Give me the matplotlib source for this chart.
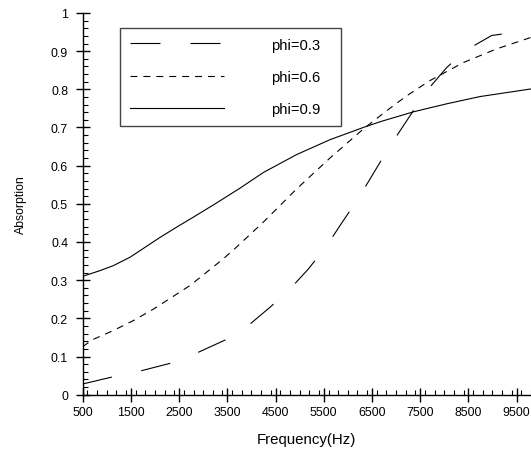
import matplotlib
matplotlib.use('Agg')
import matplotlib.pyplot as plt
from matplotlib.ticker import MultipleLocator, FixedLocator, FormatStrFormatter

plt.rcParams['font.family'] = ['Liberation Sans', 'DejaVu Sans']
plt.rcParams['lines.scale_dashes'] = False

#curve data (frequency in Hz, absorption)
freq_03 = [500, 1100, 1724, 2311, 2898, 3452, 3971, 4386, 4801, 5180, 5562, 5838,
           6184, 6461, 6751, 7014, 7360, 7671, 8051, 8432, 8985, 9573, 9800]
abs_03 = [0.028, 0.046, 0.063, 0.082, 0.111, 0.143, 0.185, 0.229, 0.277, 0.329, 0.390, 0.443,
          0.508, 0.565, 0.626, 0.678, 0.744, 0.801, 0.857, 0.901, 0.941, 0.951, 0.951]

freq_06 = [500, 720, 1135, 1550, 1965, 2311, 2726, 3072, 3418, 3695, 4247, 4938,
           5630, 6321, 6807, 7222, 7706, 8396, 9088, 9800]
abs_06 = [0.126, 0.145, 0.168, 0.194, 0.224, 0.252, 0.286, 0.321, 0.356, 0.387, 0.452, 0.539,
          0.620, 0.696, 0.744, 0.783, 0.823, 0.870, 0.906, 0.936]

freq_09 = [500, 859, 1135, 1481, 1757, 2104, 2450, 2795, 3210, 3487, 3763, 4247,
           4938, 5630, 6321, 6668, 7360, 8051, 8743, 9800]
abs_09 = [0.310, 0.325, 0.338, 0.360, 0.383, 0.412, 0.439, 0.465, 0.497, 0.519, 0.541, 0.582,
          0.629, 0.668, 0.700, 0.715, 0.741, 0.762, 0.781, 0.801]

labels = ['phi=0.3', 'phi=0.6', 'phi=0.9']
xticks = [500, 1500, 2500, 3500, 4500, 5500, 6500, 7500, 8500, 9500]

fig = plt.figure(figsize=(5.31, 4.52), dpi=100)
ax = fig.add_axes([0.1557, 0.1246, 0.8443, 0.8445])

lw = 0.8
ax.plot(freq_03, abs_03, color='black', lw=lw, linestyle=(0, (21.6, 21.6)), label=labels[0])
ax.plot(freq_06, abs_06, color='black', lw=lw, linestyle=(0, (5.0, 4.3)), label=labels[1])
ax.plot(freq_09, abs_09, color='black', lw=lw, linestyle='-', label=labels[2])

ax.set_xlim(500, 9800)
ax.set_ylim(0, 1)

#only left and bottom axis lines
ax.spines['top'].set_visible(False)
ax.spines['right'].set_visible(False)
for s in ['left', 'bottom']:
    ax.spines[s].set_linewidth(1)

ax.xaxis.set_major_locator(FixedLocator(xticks))
ax.xaxis.set_minor_locator(MultipleLocator(200))
ax.yaxis.set_major_locator(MultipleLocator(0.1))
ax.yaxis.set_minor_locator(MultipleLocator(0.02))
ax.yaxis.set_major_formatter(FormatStrFormatter('%g'))

ax.tick_params(axis='both', which='major', direction='inout', length=10, width=1,
               labelsize=8.9)
ax.tick_params(axis='y', which='major', pad=5.5)
ax.tick_params(axis='x', which='major', pad=3.5)
ax.tick_params(axis='both', which='minor', direction='in', length=3.5, width=0.8)

ax.set_xlabel('Frequency(Hz)', fontsize=10.8, va='center')
ax.set_ylabel('Absorption', fontsize=8.8, va='center')
ax.xaxis.set_label_coords(0.5, -0.116)
ax.yaxis.set_label_coords(-0.138, 0.5)

#legend box stretched to the width seen in the reference
leg = ax.legend(loc='upper left', bbox_to_anchor=(0.0832, 0.9607, 0.493, 0), mode='expand',
                borderaxespad=0, fontsize=10.6, handlelength=6.4, handletextpad=3.2,
                borderpad=0.65, labelspacing=1.25, fancybox=False, framealpha=1)
leg.get_frame().set_edgecolor('#444444')
leg.get_frame().set_linewidth(1)

plt.savefig('out.png', dpi=100)
